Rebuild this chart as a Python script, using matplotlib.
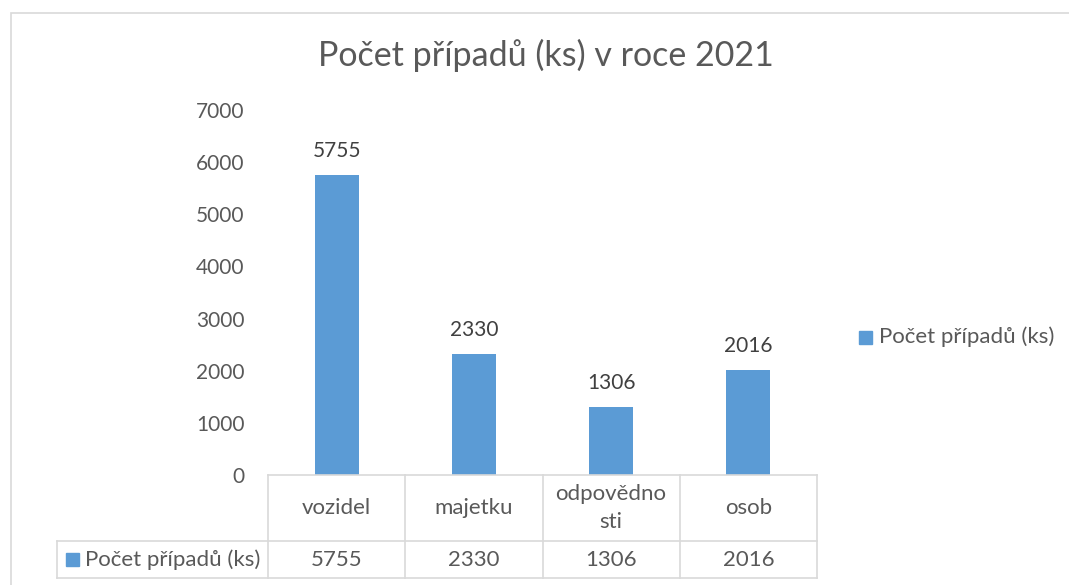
import matplotlib.pyplot as plt
import matplotlib.transforms as mtransforms
from matplotlib.patches import Rectangle

categories = ["vozidel", "majetku", "odpovědno\nsti", "osob"]
values = [5755, 2330, 1306, 2016]
series_name = "Počet případů (ks)"
title = "Počet případů (ks) v roce 2021"

plt.rcParams['font.family'] = ['Lato', 'DejaVu Sans']

W, H = 1069, 585
bar_color = "#5B9BD5"
text_color = "#595959"
grid_color = "#D9D9D9"

fig = plt.figure(figsize=(W / 100, H / 100), dpi=100)

# chart area border (cut off on right/bottom like the source screenshot)
fig.add_artist(Rectangle((11 / W, -0.1), 1.2, 1 - 13 / H + 0.1, transform=fig.transFigure,
                         fill=False, edgecolor=grid_color, lw=1.2))

x0, x1 = 268, 817
y0, y1 = 475, 110
ax = fig.add_axes([x0 / W, 1 - y0 / H, (x1 - x0) / W, (y0 - y1) / H])

xs = list(range(len(categories)))
ax.bar(xs, values, width=0.32, color=bar_color)
ax.set_xlim(-0.5, len(categories) - 0.5)
ax.set_ylim(0, 7000)
ax.set_yticks(range(0, 7001, 1000))
ax.tick_params(axis='y', length=0, labelsize=15, labelcolor=text_color, pad=17)
ax.set_xticks([])
for s in ax.spines.values():
    s.set_visible(False)

for x, v in zip(xs, values):
    ax.annotate(str(v), (x, v), xytext=(0, 10), textcoords='offset points',
                ha='center', va='bottom', fontsize=15, color="#404040")

fig.text(546 / W, 1 - 55 / H, title, ha='center', va='center', fontsize=24.5, color=text_color)

# data table under the axis
tr = mtransforms.blended_transform_factory(ax.transData, ax.transAxes)
h = y0 - y1
row1 = -(541 - y0) / h
row2 = -(578 - y0) / h
left_px = 57
left_ax = (left_px - x0) / (x1 - x0)
lkw = dict(color=grid_color, lw=1.2, clip_on=False)
ax.plot([-0.5, 3.5], [0, 0], transform=tr, **lkw)
ax.plot([left_ax, 1], [row1, row1], transform=ax.transAxes, **lkw)
ax.plot([left_ax, 1], [row2, row2], transform=ax.transAxes, **lkw)
ax.plot([left_ax, left_ax], [row1, row2], transform=ax.transAxes, **lkw)
for b in [-0.5, 0.5, 1.5, 2.5, 3.5]:
    ax.plot([b, b], [0, row2], transform=tr, **lkw)

for x, c, v in zip(xs, categories, values):
    ax.text(x, row1 / 2, c, transform=tr, ha='center', va='center', fontsize=16,
            color=text_color, linespacing=1.45)
    ax.text(x, (row1 + row2) / 2, str(v), transform=tr, ha='center', va='center',
            fontsize=16, color=text_color)

ymid = (row1 + row2) / 2
sq = 13
fig.add_artist(Rectangle((66 / W, 1 - (559 + sq / 2) / H), sq / W, sq / H,
                         transform=fig.transFigure, color=bar_color))
ax.text((85 - x0) / (x1 - x0), ymid, series_name, transform=ax.transAxes,
        ha='left', va='center', fontsize=16, color=text_color)

# legend on the right
fig.add_artist(Rectangle((859 / W, 1 - (337 + sq / 2) / H), sq / W, sq / H,
                         transform=fig.transFigure, color=bar_color))
fig.text(879 / W, 1 - 337 / H, series_name, ha='left', va='center', fontsize=16, color=text_color)

fig.savefig("out.png", dpi=100)
